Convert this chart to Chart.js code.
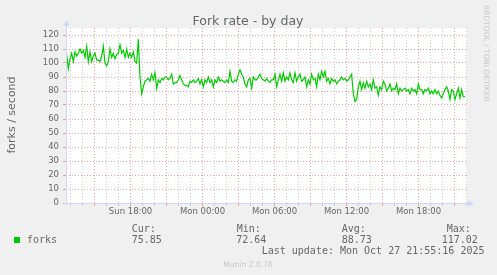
<!DOCTYPE html>
<html>
<head>
<meta charset="utf-8">
<title>Fork rate - by day</title>
<script src="https://cdn.jsdelivr.net/npm/chart.js@4.4.1/dist/chart.umd.min.js"></script>
<style>
  html, body { margin: 0; padding: 0; background: #f0f0f0; }
  canvas { display: block; }
</style>
</head>
<body>
<canvas id="forkChart" width="497" height="275"></canvas>
<script>
// Fork rate - by day, munin style graph

// time axis in hours counted from Sun 00:00
const startHour = 12.62;
const endHour = 46.04;
const firstSample = 12.676;
const sampleStep = 5 / 36;   // ~8.3 min between samples

// forks per second
const forks = [
    106, 96, 103, 107, 101, 108, 105, 107, 110, 107,
    109, 104, 112, 101, 108, 101, 105, 107, 102, 102,
    101, 105, 112, 100, 98, 101, 110, 104, 107, 103,
    106, 107, 113, 107, 109, 104, 110, 104, 107, 104,
    108, 101, 100, 117, 90, 78, 83, 87, 88, 89,
    87, 92, 88, 93, 82, 88, 86, 89, 88, 90,
    90, 88, 89, 92, 85, 86, 86, 88, 91, 88,
    85, 84, 84, 83, 87, 86, 88, 86, 87, 89,
    85, 88, 83, 88, 86, 90, 86, 88, 83, 88,
    86, 90, 87, 88, 87, 86, 88, 86, 94, 87,
    86, 88, 87, 92, 95, 92, 90, 85, 83, 88,
    89,
    82, 90, 88, 88, 90, 92, 89, 88, 87, 89,
    87, 86, 88, 88, 92, 83, 88, 92, 87, 93,
    87, 90, 88, 93, 88, 86, 93, 87, 90, 92,
    87, 88, 90, 83, 88, 85, 92, 88, 89, 83,
    92, 88, 94, 90, 94, 87, 89, 85, 89, 87,
    88, 85, 87, 88, 90, 88, 89, 87, 88, 90,
    92, 78, 72.6, 74, 83, 87, 81, 86, 82, 87,
    83, 85, 81, 88, 82, 83, 77, 83, 81, 87,
    85, 80, 82, 85, 80, 82, 81, 85, 78, 82,
    80, 81, 82, 80, 81, 78, 82, 80, 81, 78,
    85, 81, 81, 78, 81, 80, 82, 78, 80, 78,
    81, 78, 80, 77, 75, 78, 81, 83, 80, 74,
    81, 80, 74, 78, 82, 75, 81, 76, 76
];

const labelHours = [18, 24, 30, 36, 42];
const labelTexts = ['Sun 18:00', 'Mon 00:00', 'Mon 06:00', 'Mon 12:00', 'Mon 18:00'];

const yMax = 125;
const yStep = 5;

const legendHeads = ['Cur:', 'Min:', 'Avg:', 'Max:'];
const legendValues = ['75.85', '72.64', '88.73', '117.02'];
const lastUpdate = 'Last update: Mon Oct 27 21:55:16 2025';

// colours
const minorGrid = 'rgba(150,150,150,0.45)';
const majorGrid = 'rgba(222,79,79,0.55)';
const axisColor = '#cfd6f8';
const fontColor = '#666666';

const points = forks.map((v, i) => ({ x: firstSample + i * sampleStep, y: v }));

const hourTicks = [];
for (let h = Math.ceil(startHour); h <= Math.floor(endHour); h++) hourTicks.push(h);
const yTicks = [];
for (let v = 0; v <= yMax; v += yStep) yTicks.push(v);

const munin = {
    id: 'munin',
    beforeDraw(chart) {
        const { ctx, chartArea: a } = chart;
        ctx.save();
        ctx.fillStyle = '#f0f0f0';
        ctx.fillRect(0, 0, chart.width, chart.height);
        ctx.fillStyle = '#ffffff';
        ctx.fillRect(a.left, a.top, a.right - a.left, a.bottom - a.top);
        ctx.restore();
    },
    afterDraw(chart) {
        const { ctx, chartArea: a } = chart;
        const ax = a.left + 0.5;
        const ay = a.bottom + 0.5;
        ctx.save();

        // axes + arrows
        ctx.strokeStyle = axisColor;
        ctx.fillStyle = axisColor;
        ctx.lineWidth = 1;
        ctx.beginPath();
        ctx.moveTo(ax, ay + 2);
        ctx.lineTo(ax, a.top - 2);
        ctx.moveTo(ax - 2, ay);
        ctx.lineTo(a.right + 2, ay);
        ctx.stroke();
        ctx.beginPath();
        ctx.moveTo(ax - 3, a.top - 2);
        ctx.lineTo(ax + 3, a.top - 2);
        ctx.lineTo(ax, a.top - 8);
        ctx.closePath();
        ctx.fill();
        ctx.beginPath();
        ctx.moveTo(a.right + 1, ay - 3);
        ctx.lineTo(a.right + 1, ay + 3);
        ctx.lineTo(a.right + 7, ay);
        ctx.closePath();
        ctx.fill();

        // title
        ctx.fillStyle = fontColor;
        ctx.font = '12.5px "DejaVu Sans"';
        ctx.textAlign = 'center';
        ctx.textBaseline = 'alphabetic';
        ctx.fillText('Fork rate - by day', 248, 24.5);

        // vertical axis title
        ctx.save();
        ctx.translate(15, 115);
        ctx.rotate(-Math.PI / 2);
        ctx.font = '11px "DejaVu Sans"';
        ctx.fillText('forks / second', 0, 0);
        ctx.restore();

        // watermark on the right
        ctx.save();
        ctx.translate(484, 5);
        ctx.rotate(Math.PI / 2);
        ctx.textAlign = 'left';
        ctx.fillStyle = 'rgba(102,102,102,0.3)';
        ctx.font = '7.5px "DejaVu Sans"';
        ctx.fillText('RRDTOOL / TOBI OETIKER', 0, 0);
        ctx.restore();

        // legend
        ctx.fillStyle = '#00cc00';
        ctx.fillRect(14, 237, 6, 6);
        ctx.fillStyle = fontColor;
        ctx.textAlign = 'left';
        ctx.font = '10px "DejaVu Sans Mono"';
        ctx.fillText('forks', 27, 242.5);
        const headX = [131.7, 236.7, 341.7, 446.7];
        const valX = [131.7, 236.2, 341.7, 441.7];
        legendHeads.forEach((t, i) => ctx.fillText(t, headX[i], 231.5));
        legendValues.forEach((t, i) => ctx.fillText(t, valX[i], 242.5));
        ctx.fillText(lastUpdate, 261.7, 254);

        // munin version
        ctx.textAlign = 'center';
        ctx.fillStyle = 'rgba(102,102,102,0.3)';
        ctx.font = '7.6px "DejaVu Sans"';
        ctx.fillText('Munin 2.0.76', 248, 267);

        ctx.restore();
    }
};

new Chart(document.getElementById('forkChart'), {
    type: 'line',
    data: {
        datasets: [{
            label: 'forks',
            data: points,
            borderColor: '#00cc00',
            borderWidth: 1.2,
            pointRadius: 0,
            tension: 0,
            fill: false
        }]
    },
    options: {
        responsive: false,
        animation: false,
        devicePixelRatio: 1,
        layout: { padding: { top: 28, right: 30, left: 0, bottom: 0 } },
        plugins: {
            legend: { display: false },
            tooltip: { enabled: false },
            title: { display: false }
        },
        scales: {
            x: {
                type: 'linear',
                min: startHour,
                max: endHour,
                afterBuildTicks: s => { s.ticks = hourTicks.map(v => ({ value: v })); },
                afterFit: s => { s.height = 72; },
                ticks: {
                    autoSkip: false,
                    maxRotation: 0,
                    padding: 1,
                    color: fontColor,
                    font: { family: 'DejaVu Sans', size: 8.5 },
                    callback: v => {
                        const i = labelHours.indexOf(v);
                        return i >= 0 ? labelTexts[i] : '';
                    }
                },
                grid: {
                    color: c => (c.tick && c.tick.value % 3 === 0) ? majorGrid : minorGrid,
                    tickColor: c => (c.tick && c.tick.value % 3 === 0) ? majorGrid : minorGrid,
                    tickLength: 3,
                    lineWidth: 1
                },
                border: { display: false, dash: [1, 2] }
            },
            y: {
                min: 0,
                max: yMax,
                afterBuildTicks: s => { s.ticks = yTicks.map(v => ({ value: v })); },
                afterFit: s => { s.width = 66; },
                ticks: {
                    padding: 4,
                    color: fontColor,
                    font: { family: 'DejaVu Sans', size: 8.5 },
                    callback: v => (v % 10 === 0 ? String(v) : '')
                },
                grid: {
                    color: c => (c.tick && c.tick.value % 10 === 0) ? majorGrid : minorGrid,
                    tickColor: c => (c.tick && c.tick.value % 10 === 0) ? majorGrid : minorGrid,
                    tickLength: 3,
                    lineWidth: 1
                },
                border: { display: false, dash: [1, 2] }
            }
        }
    },
    plugins: [munin]
});
</script>
</body>
</html>
